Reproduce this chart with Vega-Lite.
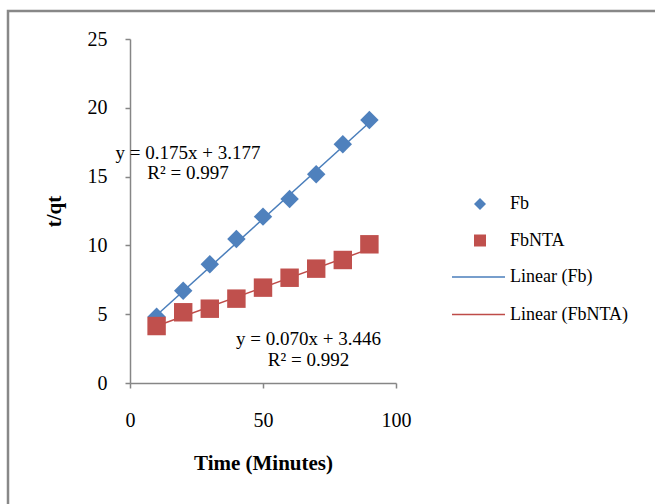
{
  "$schema": "https://vega.github.io/schema/vega-lite/v6.json",
  "width": 647,
  "height": 493,
  "autosize": "none",
  "padding": {"left": 8, "top": 11, "right": 0, "bottom": 0},
  "background": "white",
  "config": {
    "font": "Liberation Serif",
    "view": {"stroke": "#888888", "strokeWidth": 2.5, "strokeDash": [647, 1140, 500, 0]},
    "axis": {
      "grid": false,
      "domainColor": "#868686",
      "domainWidth": 1.5,
      "tickColor": "#868686",
      "tickWidth": 1.5,
      "tickSize": 5,
      "labelFont": "Liberation Serif",
      "labelFontSize": 20,
      "labelColor": "black",
      "titleFont": "Liberation Serif",
      "titleFontSize": 21,
      "titleFontWeight": "bold",
      "titleColor": "black"
    },
    "legend": {
      "labelFont": "Liberation Serif",
      "labelFontSize": 18,
      "labelColor": "black",
      "padding": 0
    }
  },
  "encoding": {
    "x": {
      "field": "t",
      "type": "quantitative",
      "scale": {"domain": [0, 100], "range": [122, 388], "nice": false, "zero": false},
      "axis": {
        "title": "Time (Minutes)",
        "values": [0, 50, 100],
        "offset": -121,
        "labelPadding": 22,
        "titlePadding": 22,
        "labelFlush": false
      }
    },
    "y": {
      "field": "v",
      "type": "quantitative",
      "scale": {"domain": [0, 25], "range": [372, 28], "nice": false, "zero": false},
      "axis": {
        "title": "t/qt",
        "values": [0, 5, 10, 15, 20, 25],
        "offset": -122,
        "labelPadding": 18,
        "titlePadding": 23,
        "labelFlush": false
      }
    }
  },
  "layer": [
    {
      "data": {
        "values": [
          {"t": 10, "v": 4.927, "trend": "Linear (Fb)"},
          {"t": 90, "v": 18.927, "trend": "Linear (Fb)"},
          {"t": 10, "v": 4.146, "trend": "Linear (FbNTA)"},
          {"t": 90, "v": 9.746, "trend": "Linear (FbNTA)"}
        ]
      },
      "mark": {"type": "line", "strokeWidth": 1.5},
      "encoding": {
        "stroke": {
          "field": "trend",
          "type": "nominal",
          "scale": {"domain": ["Linear (Fb)", "Linear (FbNTA)"], "range": ["#4A7EBB", "#BE4B48"]},
          "legend": {
            "title": null,
            "orient": "none",
            "legendX": 443,
            "legendY": 238.5,
            "symbolType": "stroke",
            "symbolSize": 2809,
            "symbolStrokeWidth": 1.5,
            "labelOffset": 4,
            "rowPadding": 0.6
          }
        },
        "detail": {"field": "trend"}
      }
    },
    {
      "data": {
        "values": [
          {"t": 10, "v": 4.82, "series": "Fb"},
          {"t": 20, "v": 6.71, "series": "Fb"},
          {"t": 30, "v": 8.63, "series": "Fb"},
          {"t": 40, "v": 10.47, "series": "Fb"},
          {"t": 50, "v": 12.09, "series": "Fb"},
          {"t": 60, "v": 13.37, "series": "Fb"},
          {"t": 70, "v": 15.17, "series": "Fb"},
          {"t": 80, "v": 17.35, "series": "Fb"},
          {"t": 90, "v": 19.11, "series": "Fb"},
          {"t": 10, "v": 4.14, "series": "FbNTA"},
          {"t": 20, "v": 5.14, "series": "FbNTA"},
          {"t": 30, "v": 5.40, "series": "FbNTA"},
          {"t": 40, "v": 6.13, "series": "FbNTA"},
          {"t": 50, "v": 6.93, "series": "FbNTA"},
          {"t": 60, "v": 7.65, "series": "FbNTA"},
          {"t": 70, "v": 8.31, "series": "FbNTA"},
          {"t": 80, "v": 8.94, "series": "FbNTA"},
          {"t": 90, "v": 10.08, "series": "FbNTA"}
        ]
      },
      "mark": {"type": "point", "filled": true, "opacity": 1, "size": 340},
      "encoding": {
        "color": {
          "field": "series",
          "type": "nominal",
          "scale": {"domain": ["Fb", "FbNTA"], "range": ["#4F81BD", "#C0504D"]},
          "legend": {
            "title": null,
            "orient": "none",
            "legendX": 463,
            "legendY": 184,
            "symbolSize": 144,
            "symbolStrokeWidth": 0,
            "labelOffset": 21,
            "rowPadding": 18.5
          }
        },
        "shape": {
          "field": "series",
          "type": "nominal",
          "scale": {"domain": ["Fb", "FbNTA"], "range": ["diamond", "square"]}
        },
        "order": {"field": "series"}
      }
    },
    {
      "data": {
        "values": [
          {"t": 21.8, "v": 16.72, "label": "y = 0.175x + 3.177"},
          {"t": 21.8, "v": 15.26, "label": "R² = 0.997"},
          {"t": 67.1, "v": 3.2, "label": "y = 0.070x + 3.446"},
          {"t": 67.1, "v": 1.67, "label": "R² = 0.992"}
        ]
      },
      "mark": {"type": "text", "font": "Liberation Serif", "fontSize": 19, "align": "center", "baseline": "middle", "color": "black"},
      "encoding": {"text": {"field": "label"}}
    }
  ]
}
